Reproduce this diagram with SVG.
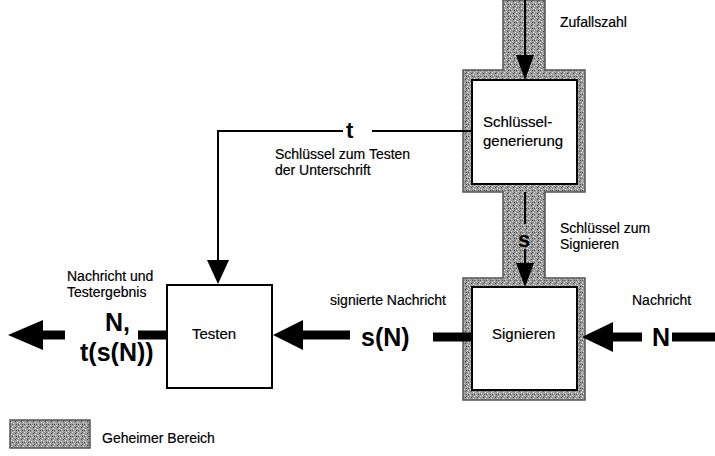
<svg xmlns="http://www.w3.org/2000/svg" width="715" height="456" viewBox="0 0 715 456">
<defs>
<pattern id="grain" width="6" height="6" patternUnits="userSpaceOnUse">
<rect width="6" height="6" fill="#9c9c9c"/>
<rect x="0" y="0" width="1" height="1" fill="#e0e0e0"/>
<rect x="3" y="1" width="1" height="1" fill="#4a4a4a"/>
<rect x="1" y="3" width="1" height="1" fill="#d8d8d8"/>
<rect x="4" y="4" width="1" height="1" fill="#505050"/>
<rect x="2" y="5" width="1" height="1" fill="#cfcfcf"/>
<rect x="5" y="2" width="1" height="1" fill="#e8e8e8"/>
<rect x="0" y="4" width="1" height="1" fill="#5a5a5a"/>
<rect x="4" y="0" width="1" height="1" fill="#6a6a6a"/>
</pattern>
<style>
.lbl{font-family:"Liberation Sans",Arial,sans-serif;font-size:14px;fill:#000;stroke:#000;stroke-width:0.2}
.box{font-family:"Liberation Sans",Arial,sans-serif;font-size:15px;fill:#000;stroke:#000;stroke-width:0.2}
.big{font-family:"Liberation Sans",Arial,sans-serif;font-weight:bold;font-size:25px;fill:#000}
.node{fill:#fff;stroke:#000;stroke-width:2}
.thin{stroke:#000;stroke-width:2;fill:none}
.thick{stroke:#000;stroke-width:9;fill:none}
.head{fill:#000}
.secret{fill:url(#grain);stroke:#555;stroke-width:1.5}
</style>
</defs>
<rect width="715" height="456" fill="#fff"/>
<g id="secret-area">
<path class="secret" d="M503,0 H545 V70 H585 V192 H545 V278 H585 V400 H463 V278 H503 V192 H463 V70 H503 Z"/>
</g>
<g id="node-keygen">
<rect class="node" x="472" y="80" width="105" height="104"/>
<text class="box" x="483" y="127">Schlüssel-</text>
<text class="box" x="483" y="146">generierung</text>
</g>
<g id="node-sign">
<rect class="node" x="472" y="287" width="105" height="103"/>
<text class="box" x="492" y="339">Signieren</text>
</g>
<g id="node-test">
<rect class="node" x="167" y="285" width="105" height="103"/>
<text class="box" x="192" y="339">Testen</text>
</g>
<g id="connectors">
<line class="thin" x1="525" y1="0" x2="525" y2="57"/>
<polygon class="head" points="516,55 534,55 525,80"/>
<line class="thin" x1="525" y1="192" x2="525" y2="224"/>
<line class="thin" x1="525" y1="249" x2="525" y2="265"/>
<polygon class="head" points="516,263 534,263 525,287"/>
<polyline class="thin" points="472,131 372,131"/>
<polyline class="thin" points="343,131 218,131 218,262"/>
<polygon class="head" points="207,260 229,260 218,284"/>
<line class="thick" x1="672" y1="337" x2="715" y2="337"/>
<line class="thick" x1="642" y1="337" x2="611" y2="337"/>
<polygon class="head" points="613,322 613,352 582,337"/>
<line class="thick" x1="433" y1="337" x2="472" y2="337"/>
<line class="thick" x1="350" y1="335" x2="301" y2="335"/>
<polygon class="head" points="303,320 303,350 273,335"/>
<line class="thick" x1="138" y1="335" x2="167" y2="335"/>
<line class="thick" x1="65" y1="335" x2="41" y2="335"/>
<polygon class="head" points="43,320 43,350 8,335"/>
</g>
<g id="labels">
<text class="lbl" x="560" y="27">Zufallszahl</text>
<text class="big" x="346" y="138" style="font-size:22px">t</text>
<text class="lbl" x="275" y="159">Schlüssel zum Testen</text>
<text class="lbl" x="275" y="175">der Unterschrift</text>
<text class="big" x="518" y="247" style="font-size:22px">s</text>
<text class="lbl" x="560" y="233">Schlüssel zum</text>
<text class="lbl" x="560" y="249">Signieren</text>
<text class="lbl" x="632" y="305">Nachricht</text>
<text class="big" x="652" y="346">N</text>
<text class="lbl" x="330" y="305">signierte Nachricht</text>
<text class="big" x="361" y="346">s(N)</text>
<text class="lbl" x="67" y="281">Nachricht und</text>
<text class="lbl" x="67" y="297">Testergebnis</text>
<text class="big" x="105" y="331">N,</text>
<text class="big" x="80" y="361">t(s(N))</text>
</g>
<g id="legend">
<rect class="secret" x="10" y="420" width="80" height="28"/>
<text class="lbl" x="102" y="443">Geheimer Bereich</text>
</g>
</svg>
